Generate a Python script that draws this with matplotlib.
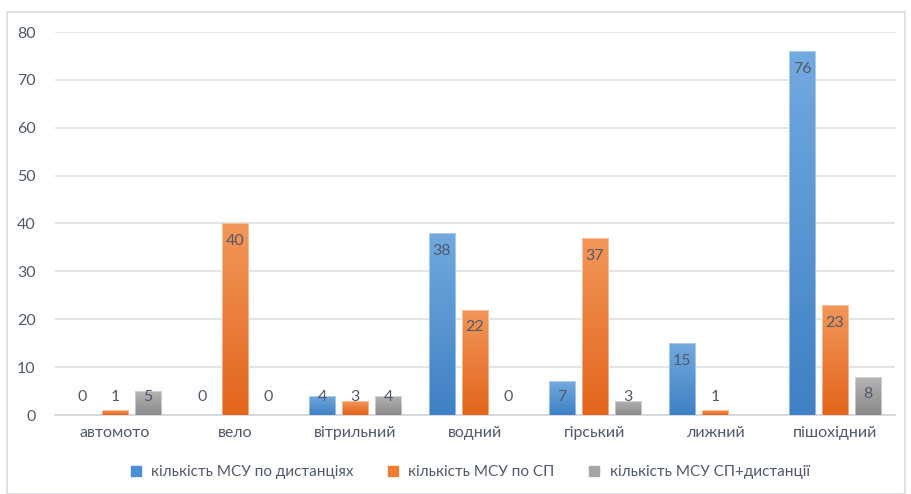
import numpy as np
import matplotlib
matplotlib.use('Agg')
import matplotlib.pyplot as plt
from matplotlib.colors import LinearSegmentedColormap
from matplotlib.patches import Rectangle
from matplotlib.lines import Line2D

plt.rcParams['font.family'] = ['Lato', 'DejaVu Sans']

categories = ['автомото', 'вело', 'вітрильний', 'водний', 'гірський', 'лижний', 'пішохідний']
dist = [0, 0, 4, 38, 7, 15, 76]
sp = [1, 40, 3, 22, 37, 1, 23]
sp_dist = [5, 0, 4, 0, 3, np.nan, 8]
series_names = ['кількість МСУ по дистанціях', 'кількість МСУ по СП', 'кількість МСУ СП+дистанції']

# (top colour, bottom colour, legend colour)
colors = [('#72a9df', '#3f81c4', '#4a8ed3'),
          ('#f3975a', '#e2651b', '#ed7d31'),
          ('#b4b4b4', '#8a8a8a', '#a5a5a5')]

txt = '#505a6a'
grid = '#dde1e6'

fig = plt.figure(figsize=(9.11, 4.94), dpi=100)
fig.patches.append(Rectangle((7 / 911, 0), 898 / 911, 482 / 494, transform=fig.transFigure,
                             fill=False, edgecolor='#d9dce1', lw=1.2))
ax = fig.add_axes([55 / 911, 79 / 494, 840 / 911, 383 / 494])

x = np.arange(len(categories))
w = 0.22
step = 0.275
grad = np.linspace(0, 1, 100).reshape(-1, 1)

for k, vals in enumerate([dist, sp, sp_dist]):
    top, bot, _ = colors[k]
    cmap = LinearSegmentedColormap.from_list('g%d' % k, [bot, top])
    xs = x + (k - 1) * step
    bars = ax.bar(xs, vals, w, color=top, edgecolor='none', zorder=2)
    for b, v, xi in zip(bars, vals, xs):
        if np.isnan(v):
            continue
        if v > 0:
            im = ax.imshow(grad, cmap=cmap, aspect='auto', origin='lower',
                           extent=[xi - w / 2, xi + w / 2, 0, v], zorder=3)
            im.set_clip_path(b)
            ax.add_patch(Rectangle((xi - w / 2, 0), w, v, fill=False,
                                   edgecolor='#ffffff', lw=0.6, alpha=0.5, zorder=4))
        ax.text(xi, max(v - 3.7, 3.7), '%d' % v, ha='center', va='center',
                fontsize=11.5, color=txt, zorder=5)

ax.set_xlim(-0.5, len(categories) - 0.5)
ax.set_ylim(0, 80)
ax.set_yticks(range(0, 81, 10))
ax.set_xticks(x)
ax.set_xticklabels(categories)
ax.yaxis.grid(True, color=grid, lw=1.2, zorder=0)
ax.set_axisbelow(True)
for s in ['top', 'right', 'left']:
    ax.spines[s].set_visible(False)
ax.spines['bottom'].set_color('#d0d4da')
ax.spines['bottom'].set_linewidth(1.2)
ax.tick_params(length=0, labelsize=11.5, colors=txt)
ax.tick_params(axis='x', pad=8)
ax.tick_params(axis='y', pad=14)

handles = [Line2D([], [], marker='s', ls='none', markersize=6.5, color=c[2]) for c in colors]
fig.legend(handles, series_names, loc='center', bbox_to_anchor=(465 / 911, 1 - 472 / 494),
           ncol=3, frameon=False, fontsize=11, labelcolor=txt, handletextpad=0.0,
           columnspacing=1.6)

fig.savefig('out.png', dpi=100)
